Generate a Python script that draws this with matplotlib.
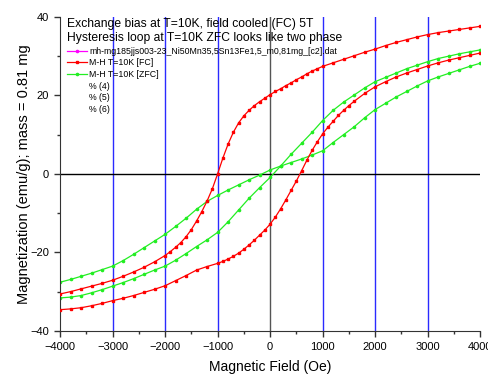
import matplotlib
matplotlib.use("Agg")
import matplotlib.pyplot as plt
from matplotlib.lines import Line2D
from matplotlib.ticker import MultipleLocator

plt.rcParams['font.family'] = ['Liberation Sans', 'DejaVu Sans']

# FC loop, descending branch (field in Oe, magnetization in emu/g)
fc_down_h = [4000, 3800, 3600, 3400, 3200, 3000, 2800, 2600, 2400, 2200, 2000,
             1800, 1600, 1400, 1200, 1000, 900, 800, 700, 600, 500, 400, 300,
             200, 100, 0, -100, -200, -300, -400, -500, -600, -700, -800, -900,
             -1000, -1100, -1200, -1300, -1400, -1500, -1600, -1700, -1800,
             -1900, -2000, -2200, -2400, -2600, -2800, -3000, -3200, -3400,
             -3600, -3800, -4000]
fc_down_m = [37.6, 37.2, 36.8, 36.4, 36.0, 35.5, 34.9, 34.2, 33.5, 32.7, 31.8,
             31.0, 30.1, 29.2, 28.3, 27.4, 26.8, 26.2, 25.5, 24.7, 24.0, 23.2,
             22.5, 21.7, 21.0, 20.2, 19.3, 18.4, 17.4, 16.2, 14.8, 13.0, 10.6,
             7.6, 4.0, 0.0, -3.8, -6.9, -9.6, -12.0, -14.2, -16.0, -17.5, -18.7,
             -19.8, -20.8, -22.4, -23.8, -25.0, -26.1, -27.1, -27.9, -28.6,
             -29.3, -30.0, -30.6]

# FC loop, ascending branch
fc_up_h = [-4000, -3800, -3600, -3400, -3200, -3000, -2800, -2600, -2400,
           -2200, -2000, -1800, -1600, -1400, -1200, -1000, -900, -800, -700,
           -600, -500, -400, -300, -200, -100, 0, 100, 200, 300, 400, 500, 600,
           700, 800, 900, 1000, 1100, 1200, 1300, 1400, 1500, 1600, 1800, 2000,
           2200, 2400, 2600, 2800, 3000, 3200, 3400, 3600, 3800, 4000]
fc_up_m = [-34.6, -34.4, -34.1, -33.6, -33.0, -32.3, -31.7, -31.0, -30.2,
           -29.4, -28.5, -27.2, -25.9, -24.5, -23.6, -22.8, -22.3, -21.7, -21.0,
           -20.2, -19.2, -18.1, -16.9, -15.6, -14.3, -12.8, -11.0, -8.9, -6.6,
           -4.2, -1.8, 0.8, 3.5, 6.0, 8.2, 10.2, 11.9, 13.4, 14.9, 16.2, 17.4,
           18.5, 20.5, 22.2, 23.5, 24.7, 25.7, 26.6, 27.5, 28.3, 29.0, 29.6,
           30.2, 30.8]

# ZFC, two branches
zfc_h = [-4000, -3800, -3600, -3400, -3200, -3000, -2800, -2600, -2400, -2200,
         -2000, -1800, -1600, -1400, -1200, -1000, -800, -600, -400, -200, 0,
         200, 400, 600, 800, 1000, 1200, 1400, 1600, 1800, 2000, 2200, 2400,
         2600, 2800, 3000, 3200, 3400, 3600, 3800, 4000]
zfc_a_m = [-31.6, -31.4, -31.0, -30.3, -29.5, -28.6, -27.7, -26.7, -25.6,
           -24.5, -23.5, -22.0, -20.3, -18.5, -16.8, -14.9, -12.2, -9.2, -6.2,
           -3.5, -0.9, 2.0, 5.0, 7.8, 10.6, 13.6, 16.2, 18.3, 20.1, 21.9, 23.5,
           24.6, 25.7, 26.8, 27.7, 28.6, 29.4, 30.0, 30.6, 31.1, 31.6]
zfc_b_m = [-27.6, -26.9, -26.1, -25.3, -24.4, -23.5, -22.1, -20.5, -18.8,
           -17.1, -15.4, -13.4, -11.3, -9.0, -7.0, -5.5, -4.1, -2.8, -1.5,
           -0.3, 1.0, 2.0, 2.9, 3.8, 4.8, 5.9, 8.0, 10.0, 12.0, 14.3, 16.4,
           18.0, 19.6, 21.0, 22.4, 23.7, 24.7, 25.6, 26.5, 27.4, 28.2]

grid_x = [-3000, -2000, -1000, 1000, 2000, 3000]

legend_labels = ["mh-mg185jjs003-23_Ni50Mn35,5Sn13Fe1,5_m0,81mg_[c2].dat",
                 "M-H T=10K [FC]", "M-H T=10K [ZFC]", "% (4)", "% (5)", "% (6)"]
title_lines = ["Exchange bias at T=10K, field cooled (FC) 5T",
               "Hysteresis loop at T=10K ZFC looks like two phase"]

red = "#ff0000"
green = "#22ee22"

fig = plt.figure(figsize=(4.88, 3.76), dpi=100)
ax = fig.add_axes([0.123, 0.12, 0.861, 0.835])

for gx in grid_x:
    ax.axvline(gx, color="#2a2aff", lw=1.0, zorder=1)
ax.axvline(0, color="#555555", lw=1.0, zorder=1)
ax.axhline(0, color="black", lw=1.0, zorder=1)

ax.plot(fc_down_h, fc_down_m, color=red, lw=0.9, marker="s", ms=2.0, zorder=3)
ax.plot(fc_up_h, fc_up_m, color=red, lw=0.9, marker="s", ms=2.0, zorder=3)
ax.plot(zfc_h, zfc_a_m, color=green, lw=0.9, marker="o", ms=1.6, zorder=2)
ax.plot(zfc_h, zfc_b_m, color=green, lw=0.9, marker="o", ms=1.6, zorder=2)

ax.set_xlim(-4000, 4000)
ax.set_ylim(-40, 40)
ax.xaxis.set_major_locator(MultipleLocator(1000))
ax.xaxis.set_minor_locator(MultipleLocator(500))
ax.yaxis.set_major_locator(MultipleLocator(20))
ax.yaxis.set_minor_locator(MultipleLocator(10))
ax.tick_params(which="both", direction="out", colors="#333333", labelsize=8,
               labelcolor="black")
ax.tick_params(which="major", length=4.5, width=1)
ax.tick_params(which="minor", length=2.5, width=1)
for s in ("top", "right"):
    ax.spines[s].set_visible(False)
for s in ("left", "bottom"):
    ax.spines[s].set_color("#333333")

ax.set_xlabel("Magnetic Field (Oe)", fontsize=10, labelpad=6)
ax.set_ylabel("Magnetization (emu/g); mass = 0.81 mg", fontsize=10.5, labelpad=-1)

ax.text(0.017, 0.968, title_lines[0], transform=ax.transAxes, fontsize=8.7,
        va="baseline", ha="left")
ax.text(0.017, 0.924, title_lines[1], transform=ax.transAxes, fontsize=8.7,
        va="baseline", ha="left")

handles = [Line2D([], [], color="#ff00ff", lw=0.9, marker="o", ms=1.6),
           Line2D([], [], color=red, lw=0.9, marker="s", ms=2.0),
           Line2D([], [], color=green, lw=0.9, marker="o", ms=1.6),
           Line2D([], [], linestyle="none"),
           Line2D([], [], linestyle="none"),
           Line2D([], [], linestyle="none")]
ax.legend(handles, legend_labels, loc="upper left", bbox_to_anchor=(0.017, 0.905),
          frameon=False, fontsize=6.3, borderpad=0, borderaxespad=0,
          handlelength=2.3, handletextpad=0.25, labelspacing=0.3, markerscale=1)

fig.savefig("out.png", dpi=100)
